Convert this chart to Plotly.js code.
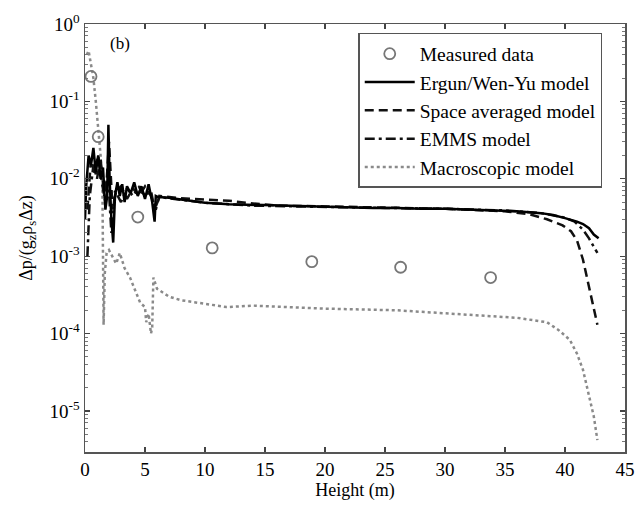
<!DOCTYPE html>
<html>
<head>
<meta charset="utf-8">
<script src="https://cdn.plot.ly/plotly-3.0.1.min.js"></script>
<style>html,body{margin:0;padding:0;background:#fff;}#chart{width:639px;height:507px;}</style>
</head>
<body>
<div id="chart"></div>
<script>
// ---- data ----
var measuredH = [0.5, 1.1, 4.4, 10.6, 18.9, 26.3, 33.8];
var measuredV = [0.21, 0.035, 0.0032, 0.00128, 0.00085, 0.00072, 0.00053];

var ergunH = [0, 0.1, 0.3, 0.5, 0.7, 0.9, 1.1, 1.3, 1.5, 1.7, 1.85, 1.95, 2.05, 2.2, 2.35, 2.5, 2.7, 2.9, 3.1, 3.3, 3.5, 3.8, 4.1, 4.4, 4.7, 5.0, 5.3, 5.6, 5.8, 5.9, 6.1, 6.5, 7, 8, 9, 10, 12, 14, 16, 18, 20, 22, 24, 26, 28, 30, 32, 34, 36, 38, 39, 40, 41, 41.5, 42, 42.4, 42.8];
var ergunV = [0.003, 0.008, 0.02, 0.015, 0.025, 0.012, 0.02, 0.01, 0.014, 0.004, 0.006, 0.05, 0.01, 0.003, 0.0015, 0.006, 0.009, 0.006, 0.0085, 0.005, 0.008, 0.0065, 0.009, 0.006, 0.008, 0.0055, 0.0085, 0.005, 0.0028, 0.006, 0.0058, 0.0058, 0.0057, 0.0054, 0.0051, 0.0049, 0.0047, 0.0046, 0.0045, 0.0044, 0.0043, 0.0043, 0.0042, 0.0042, 0.0041, 0.0041, 0.0040, 0.0039, 0.0038, 0.0036, 0.0034, 0.0031, 0.0028, 0.0026, 0.0023, 0.0019, 0.0017];

var spaceH = [0.2, 0.5, 0.8, 1.1, 1.4, 1.7, 2.0, 2.3, 2.6, 3, 3.5, 4, 4.5, 5, 5.5, 5.9, 6.2, 7, 8, 10, 12, 14, 16, 20, 25, 30, 35, 37, 38.5, 39.8, 40.5, 41, 41.5, 41.8, 42.1, 42.4, 42.7];
var spaceV = [0.004, 0.018, 0.012, 0.02, 0.009, 0.005, 0.03, 0.004, 0.007, 0.008, 0.0055, 0.0075, 0.006, 0.008, 0.006, 0.004, 0.006, 0.0058, 0.0056, 0.0054, 0.0052, 0.0048, 0.0045, 0.0044, 0.0042, 0.0041, 0.0038, 0.0035, 0.0030, 0.0025, 0.0021, 0.0016, 0.0009, 0.00054, 0.00035, 0.0002, 0.00013];

var emmsH = [0.2, 0.4, 0.7, 1.0, 1.3, 1.6, 1.9, 2.2, 2.5, 3, 3.5, 4, 4.5, 5, 5.5, 5.8, 6.2, 7, 8, 10, 14, 20, 25, 30, 35, 38, 39.8, 40.8, 41.5, 42, 42.4, 42.7];
var emmsV = [0.001, 0.006, 0.015, 0.01, 0.018, 0.006, 0.012, 0.002, 0.007, 0.005, 0.0075, 0.006, 0.0078, 0.006, 0.007, 0.004, 0.0058, 0.0056, 0.0053, 0.0049, 0.0045, 0.0043, 0.0042, 0.0041, 0.0039, 0.0036, 0.0032, 0.0028, 0.0022, 0.0017, 0.0013, 0.0011];

var macroH = [0.15, 0.3, 0.5, 0.7, 0.9, 1.1, 1.3, 1.45, 1.55, 1.65, 1.8, 2.0, 2.3, 2.6, 2.9, 3.3, 3.75, 4.2, 4.6, 5.0, 5.1, 5.3, 5.5, 5.6, 5.7, 6.0, 7.0, 8.0, 9.6, 11.8, 14, 20, 26, 33, 36, 38.5, 39.5, 40.4, 41, 41.5, 41.8, 42.1, 42.4, 42.7];
var macroV = [0.4, 0.45, 0.3, 0.2, 0.1, 0.045, 0.02, 0.008, 0.00013, 0.0006, 0.0011, 0.0012, 0.001, 0.0008, 0.0011, 0.0007, 0.00053, 0.00035, 0.00025, 0.00022, 0.00014, 0.00018, 0.0001, 0.00012, 0.00053, 0.00038, 0.0003, 0.00027, 0.00025, 0.00022, 0.00023, 0.00021, 0.0002, 0.00017, 0.00016, 0.00014, 0.00011, 0.000083, 0.000055, 0.000034, 0.000022, 0.000014, 0.0000085, 0.0000042];

var xTickVals = [0, 5, 10, 15, 20, 25, 30, 35, 40, 45];
var yTickVals = [1, 0.1, 0.01, 0.001, 0.0001, 0.00001];
var yTickText = ['10<sup>0</sup>', '10<sup>-1</sup>', '10<sup>-2</sup>', '10<sup>-3</sup>', '10<sup>-4</sup>', '10<sup>-5</sup>'];

var names = ['Measured data', 'Ergun/Wen-Yu model', 'Space averaged model', 'EMMS model', 'Macroscopic model'];

// minor log tick positions (2..9 x each decade shown)
var yMinor = [];
for (var e = -6; e < 0; e++) {
  for (var m = 2; m <= 9; m++) yMinor.push(m * Math.pow(10, e));
}

var FONT = 'Liberation Serif, DejaVu Serif, serif';

var traces = [
  {x: macroH, y: macroV, name: names[4], mode: 'lines', legendrank: 5,
   line: {color: '#8a8a8a', width: 2.5, dash: 'dot'}},
  {x: emmsH, y: emmsV, name: names[3], mode: 'lines', legendrank: 4,
   line: {color: '#111', width: 2.5, dash: '10px,4px,3px,4px'}},
  {x: spaceH, y: spaceV, name: names[2], mode: 'lines', legendrank: 3,
   line: {color: '#111', width: 2.5, dash: '9px,5px'}},
  {x: ergunH, y: ergunV, name: names[1], mode: 'lines', legendrank: 2,
   line: {color: '#000', width: 2.5}},
  {x: measuredH, y: measuredV, name: names[0], mode: 'markers', legendrank: 1,
   marker: {symbol: 'circle-open', size: 11, color: '#777', line: {width: 1.8, color: '#777'}}}
];

var layout = {
  width: 639, height: 507,
  margin: {l: 85, r: 14, t: 24, b: 55},
  paper_bgcolor: '#fff', plot_bgcolor: '#fff',
  showlegend: true,
  font: {family: FONT, color: '#000', size: 17},
  xaxis: {
    range: [0, 45], tickvals: xTickVals, ticktext: xTickVals.map(String),
    ticks: 'inside', ticklen: 5, tickwidth: 1.2, tickcolor: '#444',
    showline: true, linecolor: '#555', linewidth: 1.5, mirror: 'ticks',
    showgrid: false, zeroline: false,
    tickfont: {family: FONT, size: 19, color: '#000'},
    title: {text: 'Height (m)', font: {family: FONT, size: 18, color: '#000'}, standoff: 4}
  },
  yaxis: {
    type: 'log', range: [-5.53, 0],
    tickvals: yTickVals, ticktext: yTickText,
    ticks: 'inside', ticklen: 5, tickwidth: 1.2, tickcolor: '#444',
    minor: {tickmode: 'array', tickvals: yMinor, ticks: 'inside', ticklen: 3, tickwidth: 1, tickcolor: '#777', showgrid: false},
    showline: true, linecolor: '#555', linewidth: 1.5, mirror: 'ticks',
    showgrid: false, zeroline: false,
    tickfont: {family: FONT, size: 19, color: '#000'},
    title: {text: 'Δp/(g<sub>z</sub>ρ<sub>s</sub>Δz)', font: {family: FONT, size: 18, color: '#000'}, standoff: 12}
  },
  legend: {
    x: 0.506, y: 0.979, xanchor: 'left', yanchor: 'top',
    bgcolor: '#fff', bordercolor: '#555', borderwidth: 1.5,
    font: {family: FONT, size: 19.5, color: '#000'},
    itemwidth: 50, tracegroupgap: 0
  },
  annotations: [
    {xref: 'paper', yref: 'paper', x: 0.043, y: 0.955, xanchor: 'left', yanchor: 'middle',
     text: '(b)', showarrow: false, font: {family: FONT, size: 17, color: '#000'}}
  ]
};

Plotly.newPlot('chart', traces, layout, {displayModeBar: false, staticPlot: true});
</script>
</body>
</html>
